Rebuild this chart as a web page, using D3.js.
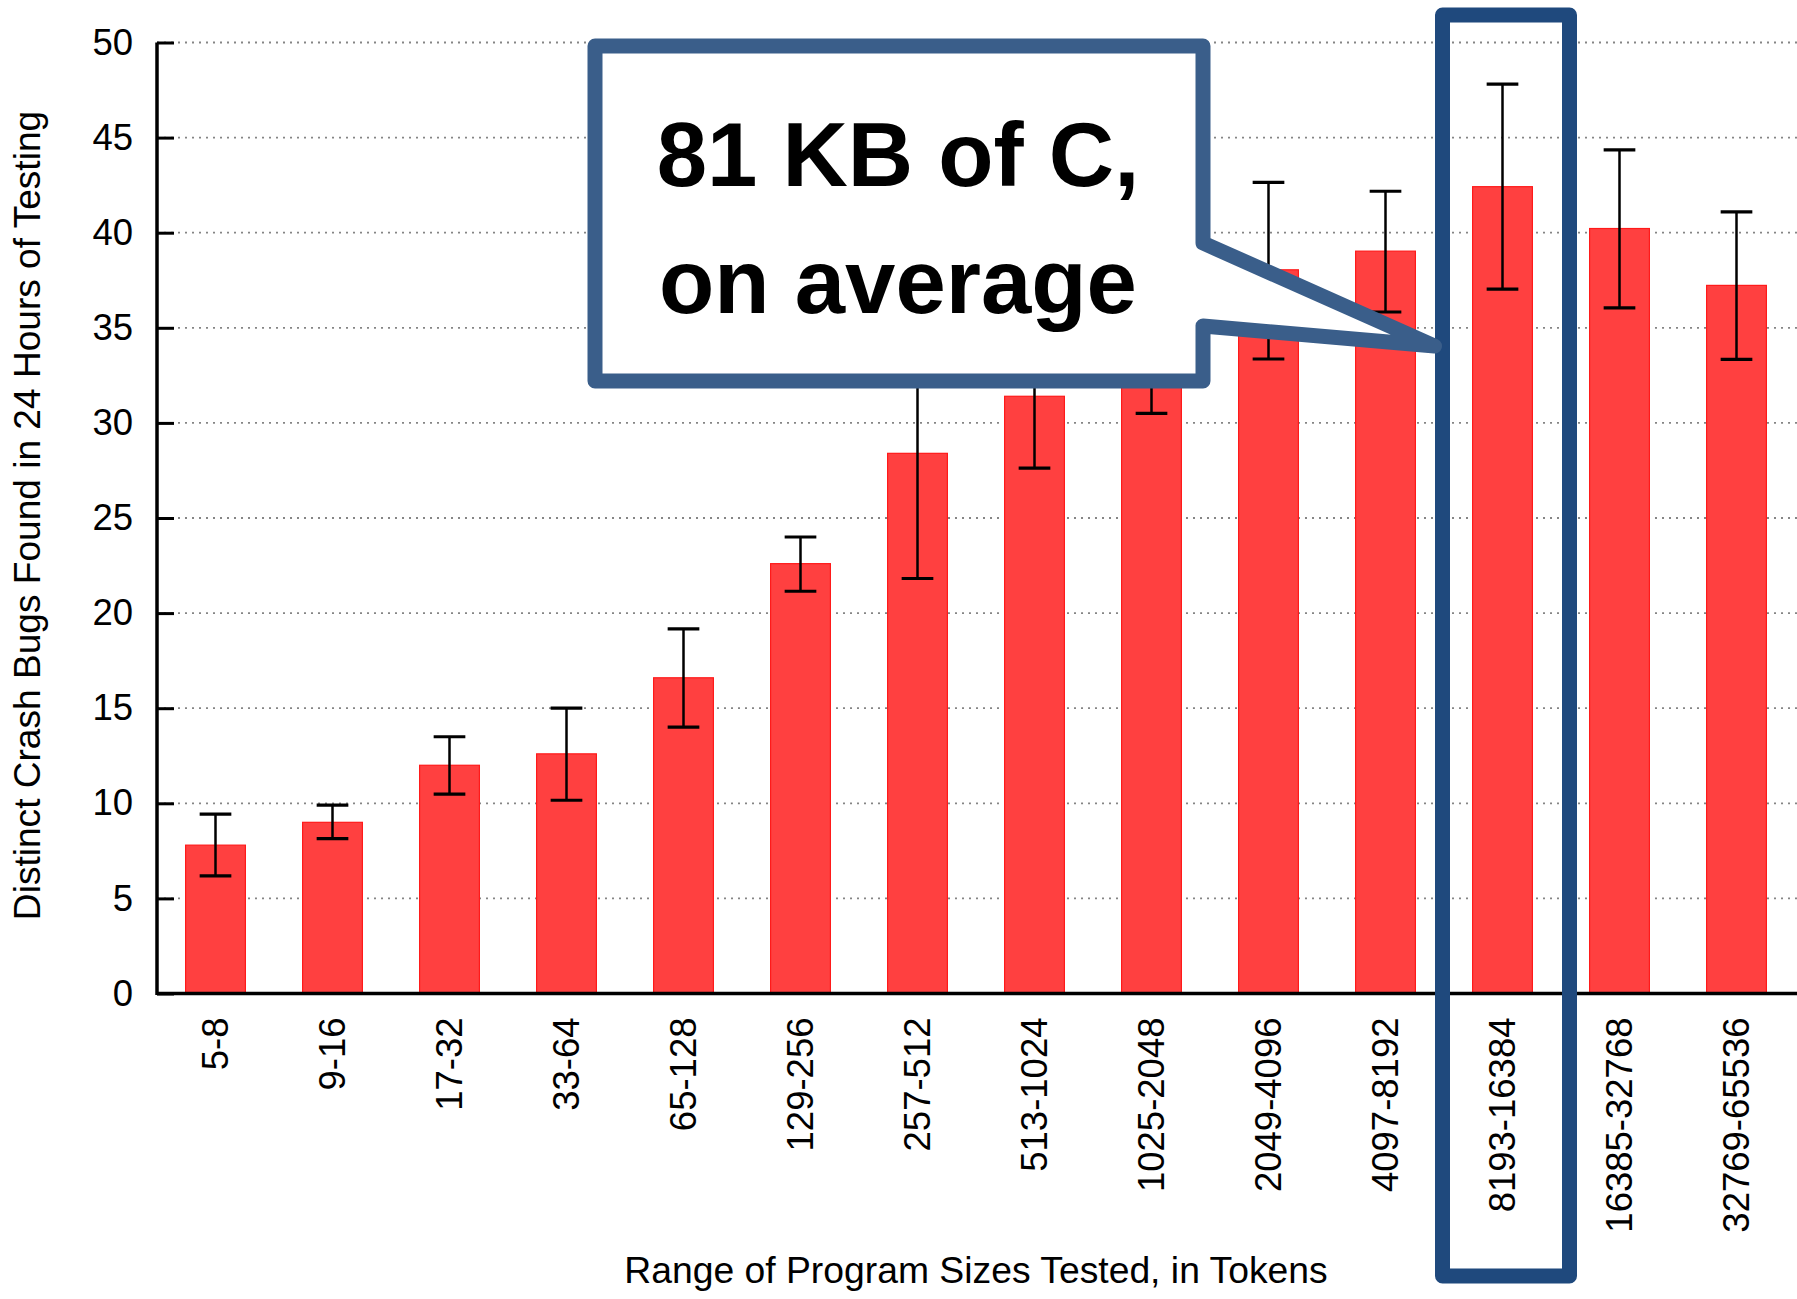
<!DOCTYPE html>
<html>
<head>
<meta charset="utf-8">
<script src="https://cdn.jsdelivr.net/npm/d3@7"></script>
<style>
  html, body { margin: 0; padding: 0; background: #fff; }
  svg { display: block; }
  text { font-family: "Liberation Sans", Arial, Helvetica, sans-serif; }
</style>
</head>
<body>
<svg id="chart" width="1797" height="1299"></svg>
<script>
// Program size buckets (tokens)
const categories = [
  "5-8", "9-16", "17-32", "33-64", "65-128", "129-256", "257-512",
  "513-1024", "1025-2048", "2049-4096", "4097-8192", "8193-16384",
  "16385-32768", "32769-65536"
];
// Mean distinct crash bugs found in 24 hours
const means = [7.8, 9.0, 12.0, 12.6, 16.6, 22.6, 28.4, 31.4, 34.4, 38.05, 39.03, 42.42, 40.22, 37.23];
// Error bar bounds
const lows  = [6.18, 8.14, 10.48, 10.16, 14.0, 21.15, 21.82, 27.62, 30.5, 33.36, 35.83, 37.03, 36.05, 33.34];
const highs = [9.43, 9.9, 13.5, 15.0, 19.17, 24.0, 35.0, 35.2, 38.3, 42.65, 42.18, 47.81, 44.35, 41.09];
const yTicks = [0, 5, 10, 15, 20, 25, 30, 35, 40, 45, 50];

const highlighted = "8193-16384";
const calloutLines = ["81 KB of C,", "on average"];

const svg = d3.select("#chart");
const W = 1797, H = 1299;
const x0 = 157, x1 = 1795, yTop = 42.5, yBottom = 993.5;

const x = d3.scaleBand().domain(categories).range([x0, x1])
  .paddingInner(0.489).paddingOuter(0.2445);
const y = d3.scaleLinear().domain([0, 50]).range([yBottom, yTop]);

const data = categories.map((c, i) => ({ c, m: means[i], lo: lows[i], hi: highs[i] }));

// dotted horizontal grid
svg.append("g").selectAll("line").data(yTicks.filter(t => t > 0)).join("line")
  .attr("x1", x0).attr("x2", W)
  .attr("y1", d => y(d)).attr("y2", d => y(d))
  .attr("stroke", "#858585").attr("stroke-width", 1.8)
  .attr("stroke-dasharray", "2 5");

// bars
svg.append("g").selectAll("rect").data(data).join("rect")
  .attr("x", d => x(d.c)).attr("width", x.bandwidth())
  .attr("y", d => y(d.m)).attr("height", d => y(0) - y(d.m))
  .attr("fill", "#ff4040").attr("stroke", "#ff1a1a").attr("stroke-width", 1.2);

// error bars
const capW = x.bandwidth() * 0.53;
const eb = svg.append("g").attr("stroke", "#000");
eb.selectAll("line.v").data(data).join("line").attr("class", "v")
  .attr("x1", d => x(d.c) + x.bandwidth() / 2).attr("x2", d => x(d.c) + x.bandwidth() / 2)
  .attr("y1", d => y(d.lo)).attr("y2", d => y(d.hi)).attr("stroke-width", 2.5);
eb.selectAll("line.top").data(data).join("line").attr("class", "top")
  .attr("x1", d => x(d.c) + x.bandwidth() / 2 - capW / 2).attr("x2", d => x(d.c) + x.bandwidth() / 2 + capW / 2)
  .attr("y1", d => y(d.hi)).attr("y2", d => y(d.hi)).attr("stroke-width", 3.2);
eb.selectAll("line.bot").data(data).join("line").attr("class", "bot")
  .attr("x1", d => x(d.c) + x.bandwidth() / 2 - capW / 2).attr("x2", d => x(d.c) + x.bandwidth() / 2 + capW / 2)
  .attr("y1", d => y(d.lo)).attr("y2", d => y(d.lo)).attr("stroke-width", 3.2);

// y axis
const yAxis = d3.axisLeft(y).tickValues(yTicks).tickSize(0).tickPadding(24);
const gy = svg.append("g").attr("transform", `translate(${x0},0)`).call(yAxis);
gy.select(".domain").remove();
gy.selectAll("text").attr("font-size", 36.5).attr("fill", "#000")
  .attr("font-family", "Liberation Sans, Arial, sans-serif");
gy.selectAll(".tick").append("line")
  .attr("x1", 0).attr("x2", 17).attr("stroke", "#000").attr("stroke-width", 3);
svg.append("line").attr("x1", x0).attr("x2", x0).attr("y1", yTop).attr("y2", yBottom + 1.5)
  .attr("stroke", "#000").attr("stroke-width", 3.5);

// x axis baseline
svg.append("line").attr("x1", x0).attr("x2", W).attr("y1", y(0)).attr("y2", y(0))
  .attr("stroke", "#000").attr("stroke-width", 3.5);

// x tick labels, rotated
const xAxis = d3.axisBottom(x).tickSize(0).tickPadding(0);
const gx = svg.append("g").attr("transform", `translate(0,${y(0)})`).call(xAxis);
gx.select(".domain").remove();
gx.selectAll("text")
  .attr("font-size", 36.5).attr("fill", "#000")
  .attr("font-family", "Liberation Sans, Arial, sans-serif")
  .attr("transform", "rotate(-90)")
  .attr("text-anchor", "end")
  .attr("x", -24).attr("y", 0).attr("dy", "0.35em");

// axis titles
svg.append("text")
  .attr("transform", "translate(40,515.5) rotate(-90)")
  .attr("text-anchor", "middle").attr("font-size", 37.1).attr("fill", "#000")
  .text("Distinct Crash Bugs Found in 24 Hours of Testing");
svg.append("text")
  .attr("x", (x0 + x1) / 2).attr("y", 1283)
  .attr("text-anchor", "middle").attr("font-size", 37.3).attr("fill", "#000")
  .text("Range of Program Sizes Tested, in Tokens");

// highlight frame around the selected bucket
const hc = x(highlighted) + x.bandwidth() / 2;
const frameLeft = hc - 60;
svg.append("rect")
  .attr("x", frameLeft).attr("y", 15).attr("width", 127).attr("height", 1261)
  .attr("fill", "none").attr("stroke", "#1f497d").attr("stroke-width", 15)
  .attr("stroke-linejoin", "round");

// callout bubble
const tipX = frameLeft - 8, tipY = 346;
const bubble = [[595, 46], [1203, 46], [1203, 243], [tipX, tipY], [1203, 326], [1203, 381], [595, 381]];
svg.append("path")
  .attr("d", d3.line()(bubble) + "Z")
  .attr("fill", "#fff").attr("stroke", "#3a5e8a").attr("stroke-width", 15)
  .attr("stroke-linejoin", "round");

svg.append("g").selectAll("text").data(calloutLines).join("text")
  .attr("x", 898).attr("y", (d, i) => 186 + i * 127)
  .attr("text-anchor", "middle")
  .attr("font-family", "Lato, 'Open Sans', sans-serif")
  .attr("font-weight", 700).attr("font-size", 90.5).attr("fill", "#000")
  .text(d => d);

// slide page number at the bottom edge
svg.append("text").attr("x", 1713).attr("y", 1318)
  .attr("font-size", 28).attr("fill", "#b0b0b0").text("58");
</script>
</body>
</html>
